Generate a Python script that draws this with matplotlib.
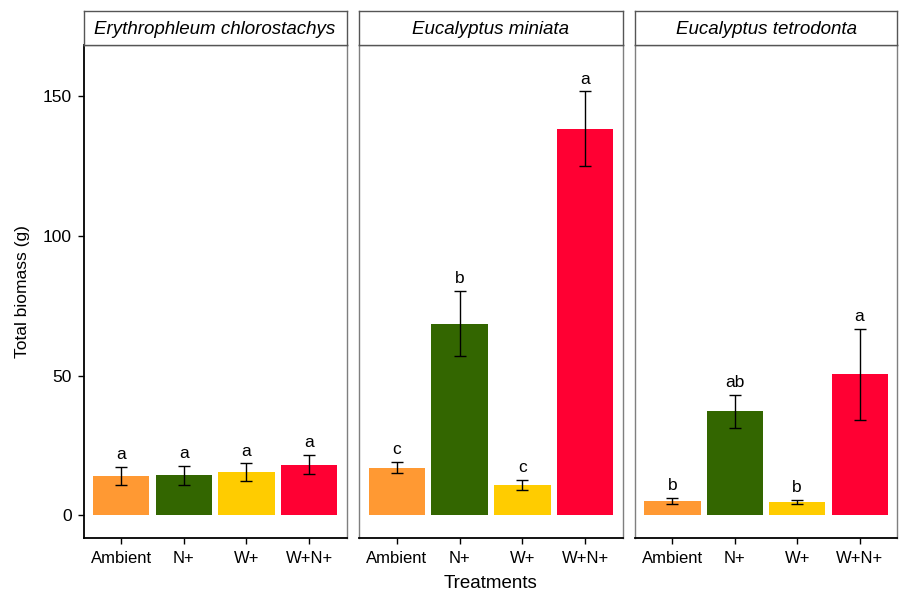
import matplotlib
matplotlib.use("Agg")
import matplotlib.pyplot as plt

plt.rcParams['font.family'] = ['Liberation Sans', 'DejaVu Sans']

species = ["Erythrophleum chlorostachys", "Eucalyptus miniata", "Eucalyptus tetrodonta"]
treatments = ["Ambient", "N+", "W+", "W+N+"]
colors = ["#FF9933", "#336600", "#FFCC00", "#FF0033"]

means = [
    [14.1, 14.4, 15.4, 18.1],
    [17.1, 68.5, 10.8, 138.1],
    [5.2, 37.2, 4.8, 50.4],
]
errors = [
    [3.2, 3.4, 3.2, 3.4],
    [2.0, 11.6, 1.8, 13.4],
    [1.1, 6.0, 0.8, 16.3],
]
letters = [
    ["a", "a", "a", "a"],
    ["c", "b", "c", "a"],
    ["b", "ab", "b", "a"],
]
yticks = [0, 50, 100, 150]

W, H = 899, 595
fig = plt.figure(figsize=(W / 100, H / 100), dpi=100)

panels_px = [(83.5, 346.7), (359.3, 622.7), (635.0, 897.0)]
ax_top, ax_bot = 45.0, 538.0
strip_top = 10.7

x = list(range(1, len(treatments) + 1))
for i, (l, r) in enumerate(panels_px):
    ax = fig.add_axes([l / W, (H - ax_bot) / H, (r - l) / W, (ax_bot - ax_top) / H])
    ax.bar(x, means[i], width=0.9, color=colors, zorder=2)
    ax.errorbar(x, means[i], yerr=errors[i], fmt='none', ecolor='black',
                elinewidth=1.0, capsize=4.5, capthick=1.0, zorder=3)
    for xi, m, e, lab in zip(x, means[i], errors[i], letters[i]):
        ax.annotate(lab, (xi, m + e), xytext=(0, 3.5), textcoords='offset points',
                    ha='center', va='bottom', fontsize=12.5)
    ax.set_xlim(0.4, 4.6)
    ax.set_ylim(-8.05, 168.1)
    ax.set_xticks(x)
    ax.set_xticklabels(treatments, fontsize=12)
    ax.set_yticks(yticks)
    for side in ['top', 'right']:
        ax.spines[side].set_color('#7f7f7f')
        ax.spines[side].set_linewidth(1.0)
    for side in ['left', 'bottom']:
        ax.spines[side].set_color('black')
        ax.spines[side].set_linewidth(1.3)
    if i != 0:
        ax.spines['left'].set_color('#7f7f7f')
        ax.spines['left'].set_linewidth(1.0)
        ax.tick_params(axis='y', left=False, labelleft=False)
    ax.tick_params(axis='both', direction='out', length=4.5, width=1.0, color='black',
                   labelsize=12)
    ax.tick_params(axis='x', pad=5)
    ax.tick_params(axis='y', pad=4, labelsize=12.5)
    if i == 0:
        ax.set_ylabel("Total biomass (g)", fontsize=12.5, labelpad=9)
    if i == 1:
        ax.set_xlabel("Treatments", fontsize=13.5, labelpad=6)

    # facet strip
    sax = fig.add_axes([l / W, (H - ax_top) / H, (r - l) / W, (ax_top - strip_top) / H])
    sax.set_xticks([])
    sax.set_yticks([])
    for s in sax.spines.values():
        s.set_color('#555555')
        s.set_linewidth(1.0)
    sax.text(0.5, 0.45, species[i], ha='center', va='center', fontsize=13.5,
             style='italic', transform=sax.transAxes)

fig.savefig("out.png", dpi=100)
